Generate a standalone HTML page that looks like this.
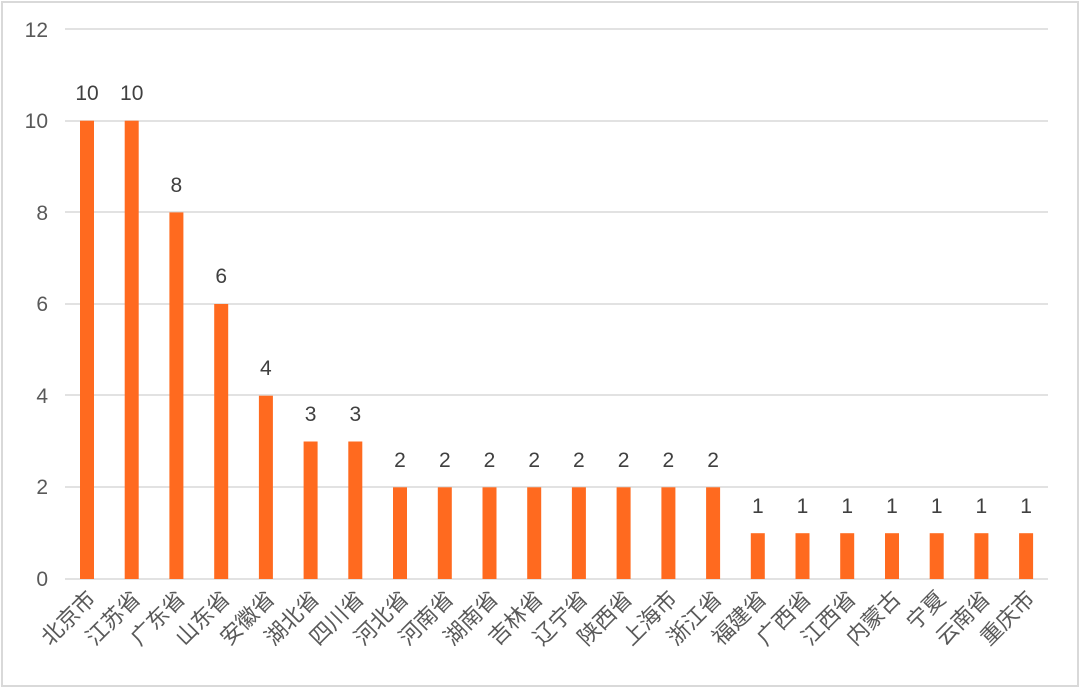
<!DOCTYPE html>
<html><head><meta charset="utf-8"><style>
html,body{margin:0;padding:0;background:#fff}
svg{display:block}
text{font-family:"Liberation Sans","Noto Sans CJK SC",sans-serif}
</style></head><body>
<svg width="1080" height="688" viewBox="0 0 1080 688" xmlns="http://www.w3.org/2000/svg">
<rect x="2" y="2" width="1076" height="684" fill="#fff" stroke="#d9d9d9" stroke-width="2"/>
<g stroke="#d9d9d9" stroke-width="1.5">
<line x1="65" x2="1048" y1="29" y2="29"/>
<line x1="65" x2="1048" y1="121" y2="121"/>
<line x1="65" x2="1048" y1="212" y2="212"/>
<line x1="65" x2="1048" y1="304" y2="304"/>
<line x1="65" x2="1048" y1="395" y2="395"/>
<line x1="65" x2="1048" y1="487" y2="487"/>
<line x1="65" x2="1048" y1="579" y2="579"/>
</g>
<g fill="#595959" font-size="21" text-anchor="end">
<text x="48" y="37">12</text>
<text x="48" y="128">10</text>
<text x="48" y="220">8</text>
<text x="48" y="311">6</text>
<text x="48" y="403">4</text>
<text x="48" y="494">2</text>
<text x="48" y="586">0</text>
</g>
<g fill="#ff6a1f">
<rect x="80" y="120.7" width="14" height="458.3"/>
<rect x="124.7" y="120.7" width="14" height="458.3"/>
<rect x="169.4" y="212.4" width="14" height="366.6"/>
<rect x="214.2" y="304" width="14" height="275"/>
<rect x="258.9" y="395.7" width="14" height="183.3"/>
<rect x="303.6" y="441.5" width="14" height="137.5"/>
<rect x="348.3" y="441.5" width="14" height="137.5"/>
<rect x="393" y="487.3" width="14" height="91.7"/>
<rect x="437.8" y="487.3" width="14" height="91.7"/>
<rect x="482.5" y="487.3" width="14" height="91.7"/>
<rect x="527.2" y="487.3" width="14" height="91.7"/>
<rect x="571.9" y="487.3" width="14" height="91.7"/>
<rect x="616.6" y="487.3" width="14" height="91.7"/>
<rect x="661.4" y="487.3" width="14" height="91.7"/>
<rect x="706.1" y="487.3" width="14" height="91.7"/>
<rect x="750.8" y="533.2" width="14" height="45.8"/>
<rect x="795.5" y="533.2" width="14" height="45.8"/>
<rect x="840.2" y="533.2" width="14" height="45.8"/>
<rect x="885" y="533.2" width="14" height="45.8"/>
<rect x="929.7" y="533.2" width="14" height="45.8"/>
<rect x="974.4" y="533.2" width="14" height="45.8"/>
<rect x="1019.1" y="533.2" width="14" height="45.8"/>
</g>
<g fill="#404040" font-size="21" text-anchor="middle">
<text x="87" y="100">10</text>
<text x="131.7" y="100">10</text>
<text x="176.4" y="192">8</text>
<text x="221.2" y="283">6</text>
<text x="265.9" y="375">4</text>
<text x="310.6" y="421">3</text>
<text x="355.3" y="421">3</text>
<text x="400" y="467">2</text>
<text x="444.8" y="467">2</text>
<text x="489.5" y="467">2</text>
<text x="534.2" y="467">2</text>
<text x="578.9" y="467">2</text>
<text x="623.6" y="467">2</text>
<text x="668.4" y="467">2</text>
<text x="713.1" y="467">2</text>
<text x="757.8" y="513">1</text>
<text x="802.5" y="513">1</text>
<text x="847.2" y="513">1</text>
<text x="892" y="513">1</text>
<text x="936.7" y="513">1</text>
<text x="981.4" y="513">1</text>
<text x="1026.1" y="513">1</text>
</g>
<g fill="#595959" font-size="22" text-anchor="end">
<text transform="translate(97,600) rotate(-45)">北京市</text>
<text transform="translate(141.7,600) rotate(-45)">江苏省</text>
<text transform="translate(186.4,600) rotate(-45)">广东省</text>
<text transform="translate(231.2,600) rotate(-45)">山东省</text>
<text transform="translate(275.9,600) rotate(-45)">安徽省</text>
<text transform="translate(320.6,600) rotate(-45)">湖北省</text>
<text transform="translate(365.3,600) rotate(-45)">四川省</text>
<text transform="translate(410,600) rotate(-45)">河北省</text>
<text transform="translate(454.8,600) rotate(-45)">河南省</text>
<text transform="translate(499.5,600) rotate(-45)">湖南省</text>
<text transform="translate(544.2,600) rotate(-45)">吉林省</text>
<text transform="translate(588.9,600) rotate(-45)">辽宁省</text>
<text transform="translate(633.6,600) rotate(-45)">陕西省</text>
<text transform="translate(678.4,600) rotate(-45)">上海市</text>
<text transform="translate(723.1,600) rotate(-45)">浙江省</text>
<text transform="translate(767.8,600) rotate(-45)">福建省</text>
<text transform="translate(812.5,600) rotate(-45)">广西省</text>
<text transform="translate(857.2,600) rotate(-45)">江西省</text>
<text transform="translate(902,600) rotate(-45)">内蒙古</text>
<text transform="translate(946.7,600) rotate(-45)">宁夏</text>
<text transform="translate(991.4,600) rotate(-45)">云南省</text>
<text transform="translate(1036.1,600) rotate(-45)">重庆市</text>
</g>
</svg>
</body></html>
